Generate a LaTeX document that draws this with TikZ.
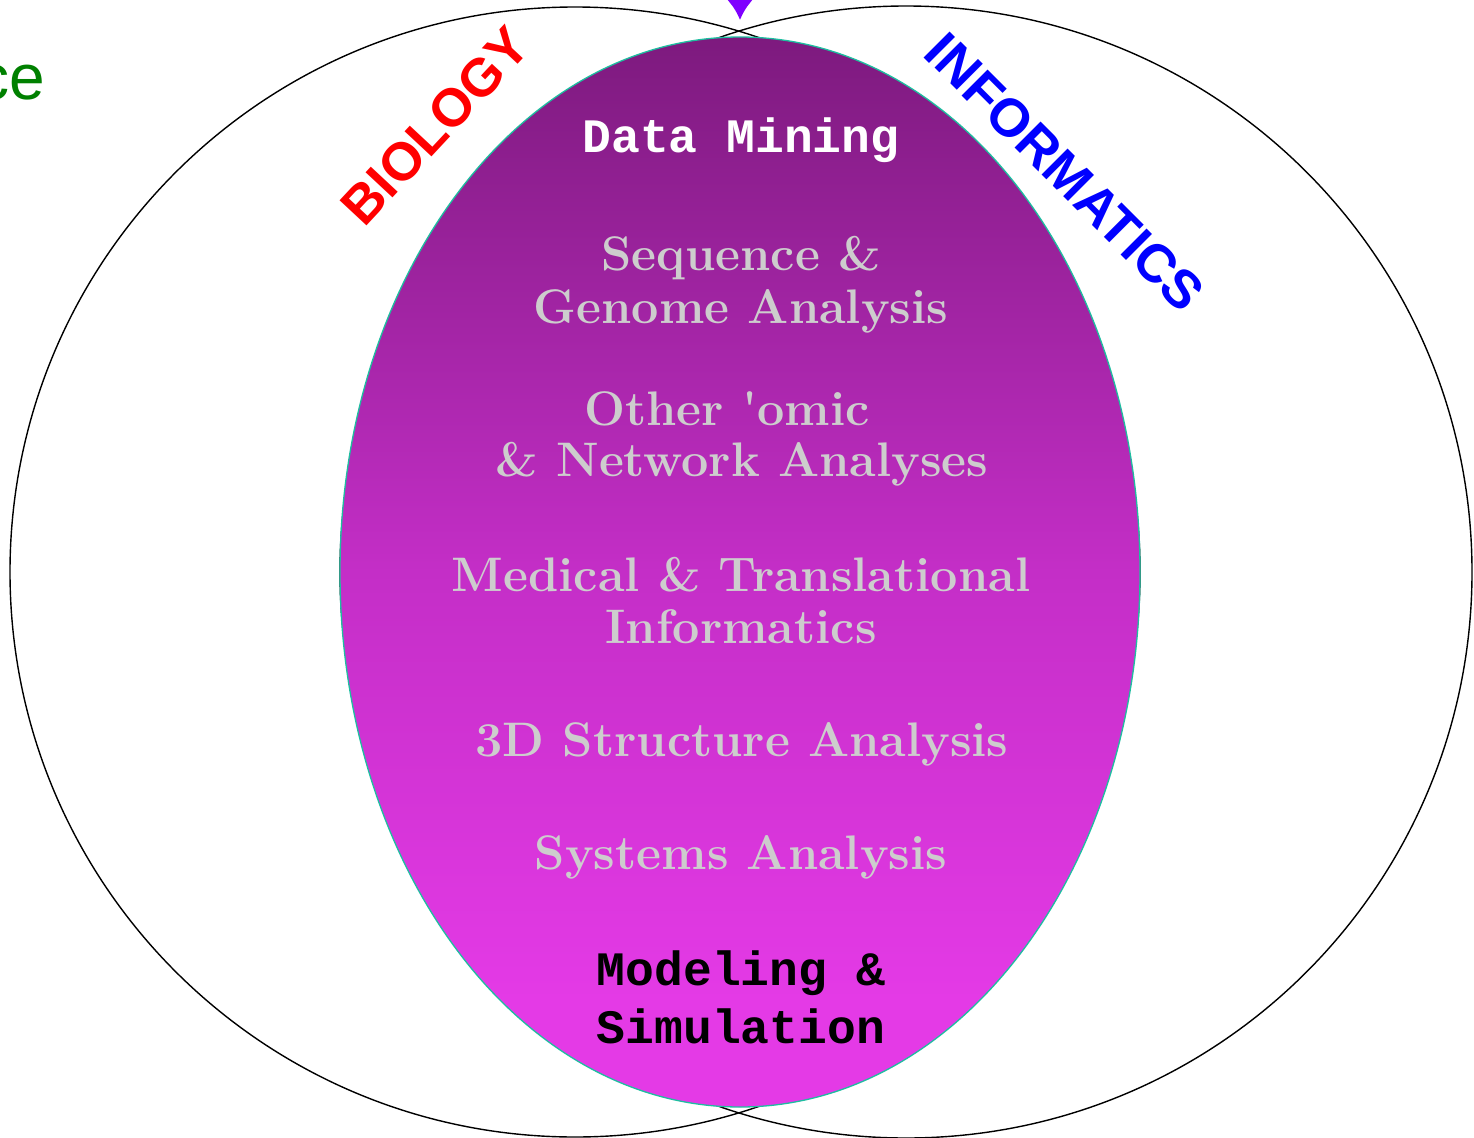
\documentclass[tikz,border=0pt]{standalone}
\usepackage{fontspec}
\setmonofont{Liberation Mono}
\newfontfamily\helv{Liberation Sans}
\usetikzlibrary{arrows.meta}
\definecolor{elltop}{RGB}{125,26,126}
\definecolor{ellmid}{RGB}{196,46,199}
\definecolor{ellbot}{RGB}{228,58,230}
\definecolor{elledge}{RGB}{30,190,160}
\definecolor{txtgray}{RGB}{205,205,205}
\definecolor{arrviolet}{RGB}{127,0,255}
\definecolor{scigreen}{RGB}{0,128,0}
\pgfdeclareverticalshading{ellshade}{100bp}{color(0bp)=(ellbot); color(30bp)=(ellbot); color(50bp)=(ellmid); color(75bp)=(elltop); color(100bp)=(elltop)}
\tikzset{
  circ/.style={draw=black, line width=1.4pt},
  serifline/.style={anchor=base, inner sep=0pt, text=txtgray, font=\fontsize{48.5}{52}\selectfont\bfseries},
  monoline/.style={anchor=base, inner sep=0pt, font=\fontsize{48}{56}\selectfont\ttfamily\bfseries},
  fieldlabel/.style={inner sep=0pt, text depth=0pt, font=\fontsize{53.5}{60}\selectfont\helv\bfseries},
}
\begin{document}
\begin{tikzpicture}[x=1pt,y=1pt]
\useasboundingbox (0,0) rectangle (1474,-1137);
\clip (0,0) rectangle (1474,-1137);
\fill[white] (0,0) rectangle (1474,-1137);
% circles
\node[circ, circle, minimum size=1130pt, inner sep=0pt] (bio) at (575,-572) {};
\node[circ, circle, minimum size=1132pt, inner sep=0pt] (inf) at (906,-572) {};
% central ellipse
\path[shading=ellshade, draw=elledge, line width=1.3pt] (740,-572) ellipse [x radius=400, y radius=535];
\coordinate (ellc) at (740,-572);
% arrow
\coordinate (arrtop) at (740,10);
\coordinate (arrtip) at (740,-20);
\draw[arrviolet, line width=5pt, -{Latex[length=20pt,width=26pt]}] (arrtop) -- (arrtip);
% partial text
\node[anchor=base east, inner sep=0pt, text=scigreen, font=\fontsize{64}{70}\selectfont\helv] (sci) at (45,-100) {ce};
% field labels
\node[fieldlabel, text=red, rotate=47] (biology) at (435,-126) {BIOLOGY};
\node[fieldlabel, text=blue, rotate=-45] (informatics) at (1065,-172) {INFORMATICS};
% texts
\node[monoline, text=white] (dm) at (741,-153) {Data Mining};
\node[serifline] (s1) at (741,-270) {Sequence \&};
\node[serifline] (s2) at (741,-323) {Genome Analysis};
\node[serifline] (o1) at (727,-425) {Other \textquotesingle omic};
\node[serifline] (o2) at (742,-476) {\& Network Analyses};
\node[serifline] (m1) at (741,-591) {Medical \& Translational};
\node[serifline] (m2) at (741,-643) {Informatics};
\node[serifline] (st) at (742,-756) {3D Structure Analysis};
\node[serifline] (sy) at (741,-869) {Systems Analysis};
\node[monoline, text=black] (ms1) at (741,-985) {Modeling \&};
\node[monoline, text=black] (ms2) at (741,-1043) {Simulation};
\end{tikzpicture}
\end{document}
